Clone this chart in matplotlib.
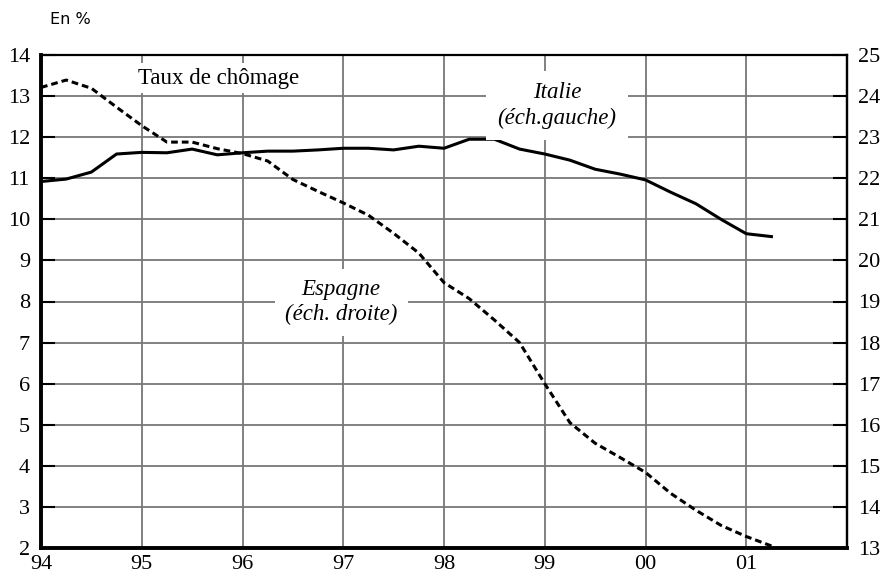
import matplotlib
matplotlib.use("Agg")
import matplotlib.pyplot as plt

# quarterly observations, 94 = 1994 Q1 ... 101.25 = 2001 Q2
quarters = [94.0, 94.25, 94.5, 94.75, 95.0, 95.25, 95.5, 95.75,
            96.0, 96.25, 96.5, 96.75, 97.0, 97.25, 97.5, 97.75,
            98.0, 98.25, 98.5, 98.75, 99.0, 99.25, 99.5, 99.75,
            100.0, 100.25, 100.5, 100.75, 101.0, 101.25]

# Italie, left scale
italie = [10.92, 10.98, 11.15, 11.59, 11.63, 11.62, 11.71, 11.57,
          11.62, 11.66, 11.66, 11.69, 11.73, 11.73, 11.69, 11.78,
          11.73, 11.95, 11.95, 11.71, 11.59, 11.44, 11.22, 11.10,
          10.96, 10.66, 10.38, 10.00, 9.65, 9.58]

# Espagne, right scale
espagne = [24.21, 24.39, 24.19, 23.73, 23.28, 22.88, 22.88, 22.72,
           22.60, 22.42, 21.97, 21.68, 21.40, 21.10, 20.66, 20.18,
           19.46, 19.07, 18.55, 18.00, 17.00, 16.05, 15.55, 15.20,
           14.84, 14.33, 13.92, 13.55, 13.28, 13.05]

year_ticks = [94, 95, 96, 97, 98, 99, 100, 101]
year_labels = ["94", "95", "96", "97", "98", "99", "00", "01"]
left_ticks = [2, 3, 4, 5, 6, 7, 8, 9, 10, 11, 12, 13, 14]
right_ticks = [13, 14, 15, 16, 17, 18, 19, 20, 21, 22, 23, 24, 25]

serif = "Liberation Serif"

fig = plt.figure(figsize=(8.85, 5.78), dpi=100)
ax = fig.add_axes([41 / 885, 1 - 548 / 578, (847 - 41) / 885, (548 - 55) / 578])
ax2 = ax.twinx()

ax.set_xlim(94, 102)
ax.set_ylim(2, 14)
ax2.set_ylim(13, 25)

# grid
for x in year_ticks[1:]:
    ax.axvline(x, color="#777777", lw=1.3, zorder=0)
for y in left_ticks[1:-1]:
    ax.axhline(y, color="#777777", lw=1.3, zorder=0)

ax.plot(quarters, italie, color="black", lw=2.2, zorder=3)
ax2.plot(quarters, espagne, color="black", lw=2.2, dashes=(2.2, 1.3), zorder=3)

ax.set_xticks(year_ticks)
ax.set_xticklabels(year_labels, fontfamily=serif, fontsize=16)
ax.tick_params(axis="x", length=0, pad=5)

ax.set_yticks(left_ticks)
ax.set_yticklabels([str(v) for v in left_ticks], fontfamily=serif, fontsize=16)
ax.tick_params(axis="y", direction="in", length=10, width=1.5, color="black", pad=8)

ax2.set_yticks(right_ticks)
ax2.set_yticklabels([str(v) for v in right_ticks], fontfamily=serif, fontsize=16)
ax2.tick_params(axis="y", direction="in", length=10, width=1.5, color="black", pad=8)

for side in ["left", "bottom"]:
    ax.spines[side].set_linewidth(2.8)
for side in ["top", "right"]:
    ax.spines[side].set_linewidth(1.6)
for side in ["left", "bottom", "top"]:
    ax2.spines[side].set_visible(False)
ax2.spines["right"].set_linewidth(1.6)

ax.text(95.76, 13.44, "Taux de chômage", fontfamily=serif, fontsize=16.5,
        ha="center", va="center", zorder=4,
        bbox=dict(facecolor="white", edgecolor="none", boxstyle="square,pad=0.2"))
ax.text(99.12, 12.77, "Italie\n(éch.gauche)", fontfamily=serif, fontstyle="italic",
        fontsize=16.5, ha="center", va="center", linespacing=1.25, zorder=4,
        bbox=dict(facecolor="white", edgecolor="none", boxstyle="square,pad=0.5"))
ax.text(96.98, 7.98, "Espagne\n(éch. droite)", fontfamily=serif, fontstyle="italic",
        fontsize=16.5, ha="center", va="center", linespacing=1.25, zorder=4,
        bbox=dict(facecolor="white", edgecolor="none", boxstyle="square,pad=0.45"))

fig.text(50 / 885, 1 - 19 / 578, "En %", fontfamily="DejaVu Sans", fontsize=11.5,
         ha="left", va="center")

fig.savefig("out.png", dpi=100)
